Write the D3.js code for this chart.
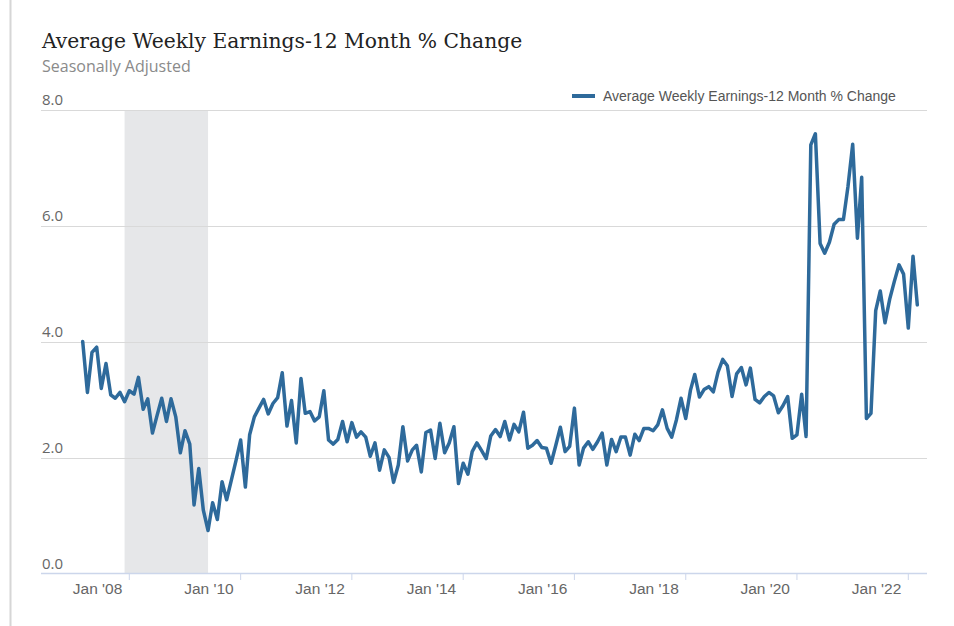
<!DOCTYPE html>
<meta charset="utf-8">
<style type="text/css">
body { margin: 0; background: #fff; }
svg { font-family: "Liberation Sans", Arial, sans-serif; }
.grid line { stroke: #d9d9d9; stroke-width: 1px; }
.line { fill: none; stroke: #2e6a9b; stroke-width: 3.5px; stroke-linejoin: round; stroke-linecap: round; }
</style>
<body>
<script src="https://d3js.org/d3.v7.min.js"></script>
<script>
// monthly series, Mar 2007 .. Mar 2022
let firstMonth = [2007, 2]; // year, month index (0 = Jan)
let values = [
    4.01, 3.13, 3.82, 3.91, 3.20, 3.63, 3.09, 3.03, 3.13, 2.97,
    3.16, 3.10, 3.39, 2.84, 3.02, 2.43, 2.73, 3.03, 2.63, 3.02, 2.71, 2.09,
    2.47, 2.24, 1.19, 1.82, 1.10, 0.75, 1.23, 0.94, 1.59, 1.28, 1.62, 1.95,
    2.31, 1.50, 2.40, 2.71, 2.86, 3.01, 2.76, 2.94, 3.04, 3.47, 2.55, 2.99,
    2.26, 3.37, 2.77, 2.80, 2.64, 2.71, 3.16, 2.31, 2.24, 2.32, 2.63, 2.28,
    2.61, 2.36, 2.45, 2.36, 2.03, 2.26, 1.79, 2.14, 2.01, 1.58, 1.88, 2.54,
    1.95, 2.14, 2.22, 1.76, 2.44, 2.48, 1.99, 2.60, 2.09, 2.26, 2.54, 1.56,
    1.91, 1.72, 2.11, 2.26, 2.13, 1.99, 2.38, 2.49, 2.37, 2.63, 2.31, 2.58,
    2.45, 2.79, 2.17, 2.22, 2.30, 2.18, 2.17, 1.91, 2.22, 2.53, 2.11, 2.20,
    2.86, 1.88, 2.17, 2.28, 2.15, 2.28, 2.43, 1.88, 2.32, 2.11, 2.36, 2.36,
    2.05, 2.41, 2.30, 2.51, 2.51, 2.47, 2.57, 2.83, 2.51, 2.36, 2.66, 3.03,
    2.68, 3.17, 3.44, 3.05, 3.18, 3.23, 3.14, 3.48, 3.70, 3.59, 3.06, 3.45,
    3.56, 3.26, 3.55, 3.01, 2.95, 3.06, 3.13, 3.07, 2.78, 2.90, 3.06, 2.34,
    2.40, 3.10, 2.37, 7.40, 7.59, 5.70, 5.53, 5.72, 6.03, 6.11, 6.11, 6.68,
    7.41, 5.79, 6.84, 2.68, 2.77, 4.54, 4.88, 4.33, 4.74, 5.04, 5.33, 5.17,
    4.24, 5.48, 4.64
];
let tickYears = [2008, 2010, 2012, 2014, 2016, 2018, 2020, 2022];
let tickLabels = ["Jan '08", "Jan '10", "Jan '12", "Jan '14", "Jan '16", "Jan '18", "Jan '20", "Jan '22"];
let yTicks = [0, 2, 4, 6, 8];
let recession = [[2007, 11], [2009, 5]]; // Dec 2007 - Jun 2009
let seriesName = "Average Weekly Earnings-12 Month % Change";

let data = values.map(function(v, i) {
    return { date: new Date(Date.UTC(firstMonth[0], firstMonth[1] + i, 1)), value: v };
});

let width = 954, height = 626;
let svg = d3.select("body").append("svg")
    .attr("width", width)
    .attr("height", height);

// border
svg.append("line").attr("x1", 10.5).attr("x2", 10.5).attr("y1", 0).attr("y2", height)
    .attr("stroke", "#d6d6d6").attr("stroke-width", 2);

let x = d3.scaleUtc()
    .domain([new Date(Date.UTC(2008, 0, 1)), new Date(Date.UTC(2022, 0, 1))])
    .range([129.3, 908.3]);
let y = d3.scaleLinear()
    .domain([0, 8])
    .range([574, 110]);

let plotLeft = 41, plotRight = 927;

// recession band
let r0 = x(new Date(Date.UTC(recession[0][0], recession[0][1], 1)));
let r1 = x(new Date(Date.UTC(recession[1][0], recession[1][1], 1)));
svg.append("rect")
    .attr("x", r0)
    .attr("width", r1 - r0)
    .attr("y", y(8) + 1)
    .attr("height", y(0) - y(8) - 1)
    .attr("fill", "#e6e7e9");

// grid + y labels
let grid = svg.append("g").attr("class", "grid");
grid.selectAll("line").data(yTicks.filter(function(d) { return d > 0; })).enter().append("line")
    .attr("x1", plotLeft).attr("x2", plotRight)
    .attr("y1", function(d) { return Math.round(y(d)) + 0.5; })
    .attr("y2", function(d) { return Math.round(y(d)) + 0.5; });
svg.selectAll(".ylab").data(yTicks).enter().append("text")
    .attr("class", "ylab")
    .attr("x", 42)
    .attr("y", function(d) { return y(d) - 5; })
    .attr("fill", "#666")
    .style("font-family", "'Open Sans', sans-serif")
    .style("font-size", "15px")
    .text(function(d) { return d3.format(".1f")(d); });

// x axis
svg.append("line")
    .attr("x1", plotLeft).attr("x2", plotRight)
    .attr("y1", 573.5).attr("y2", 573.5)
    .attr("stroke", "#ccd6eb").attr("stroke-width", 1.5);
let ticks = svg.selectAll(".xtick").data(tickYears).enter().append("g")
    .attr("class", "xtick")
    .attr("transform", function(d) { return "translate(" + x(new Date(Date.UTC(d, 0, 1))) + ",0)"; });
ticks.append("line")
    .attr("y1", 574).attr("y2", 580)
    .attr("stroke", "#ccd6eb").attr("stroke-width", 1);
ticks.append("text")
    .attr("x", -7)
    .attr("y", 594)
    .attr("text-anchor", "end")
    .attr("fill", "#666")
    .style("font-size", "15.5px")
    .text(function(d, i) { return tickLabels[i]; });

// line
let line = d3.line()
    .x(function(d) { return x(d.date); })
    .y(function(d) { return y(d.value); });
svg.append("path")
    .datum(data)
    .attr("class", "line")
    .attr("d", line);

// title
svg.append("text")
    .attr("x", 42).attr("y", 48)
    .attr("fill", "#222")
    .style("font-family", "'DejaVu Serif', Georgia, serif")
    .style("font-size", "20.3px")
    .text("Average Weekly Earnings-12 Month % Change");
svg.append("text")
    .attr("x", 42).attr("y", 72)
    .attr("fill", "#8a8a8a")
    .style("font-family", "'Open Sans', sans-serif")
    .style("font-size", "16px")
    .text("Seasonally Adjusted");

// legend
let legend = svg.append("g").attr("transform", "translate(572,96)");
legend.append("line")
    .attr("x1", 0).attr("x2", 23)
    .attr("stroke", "#2e6a9b").attr("stroke-width", 4);
legend.append("text")
    .attr("x", 31).attr("y", 5)
    .attr("fill", "#555")
    .style("font-size", "14px")
    .text(seriesName);
</script>
</body>
